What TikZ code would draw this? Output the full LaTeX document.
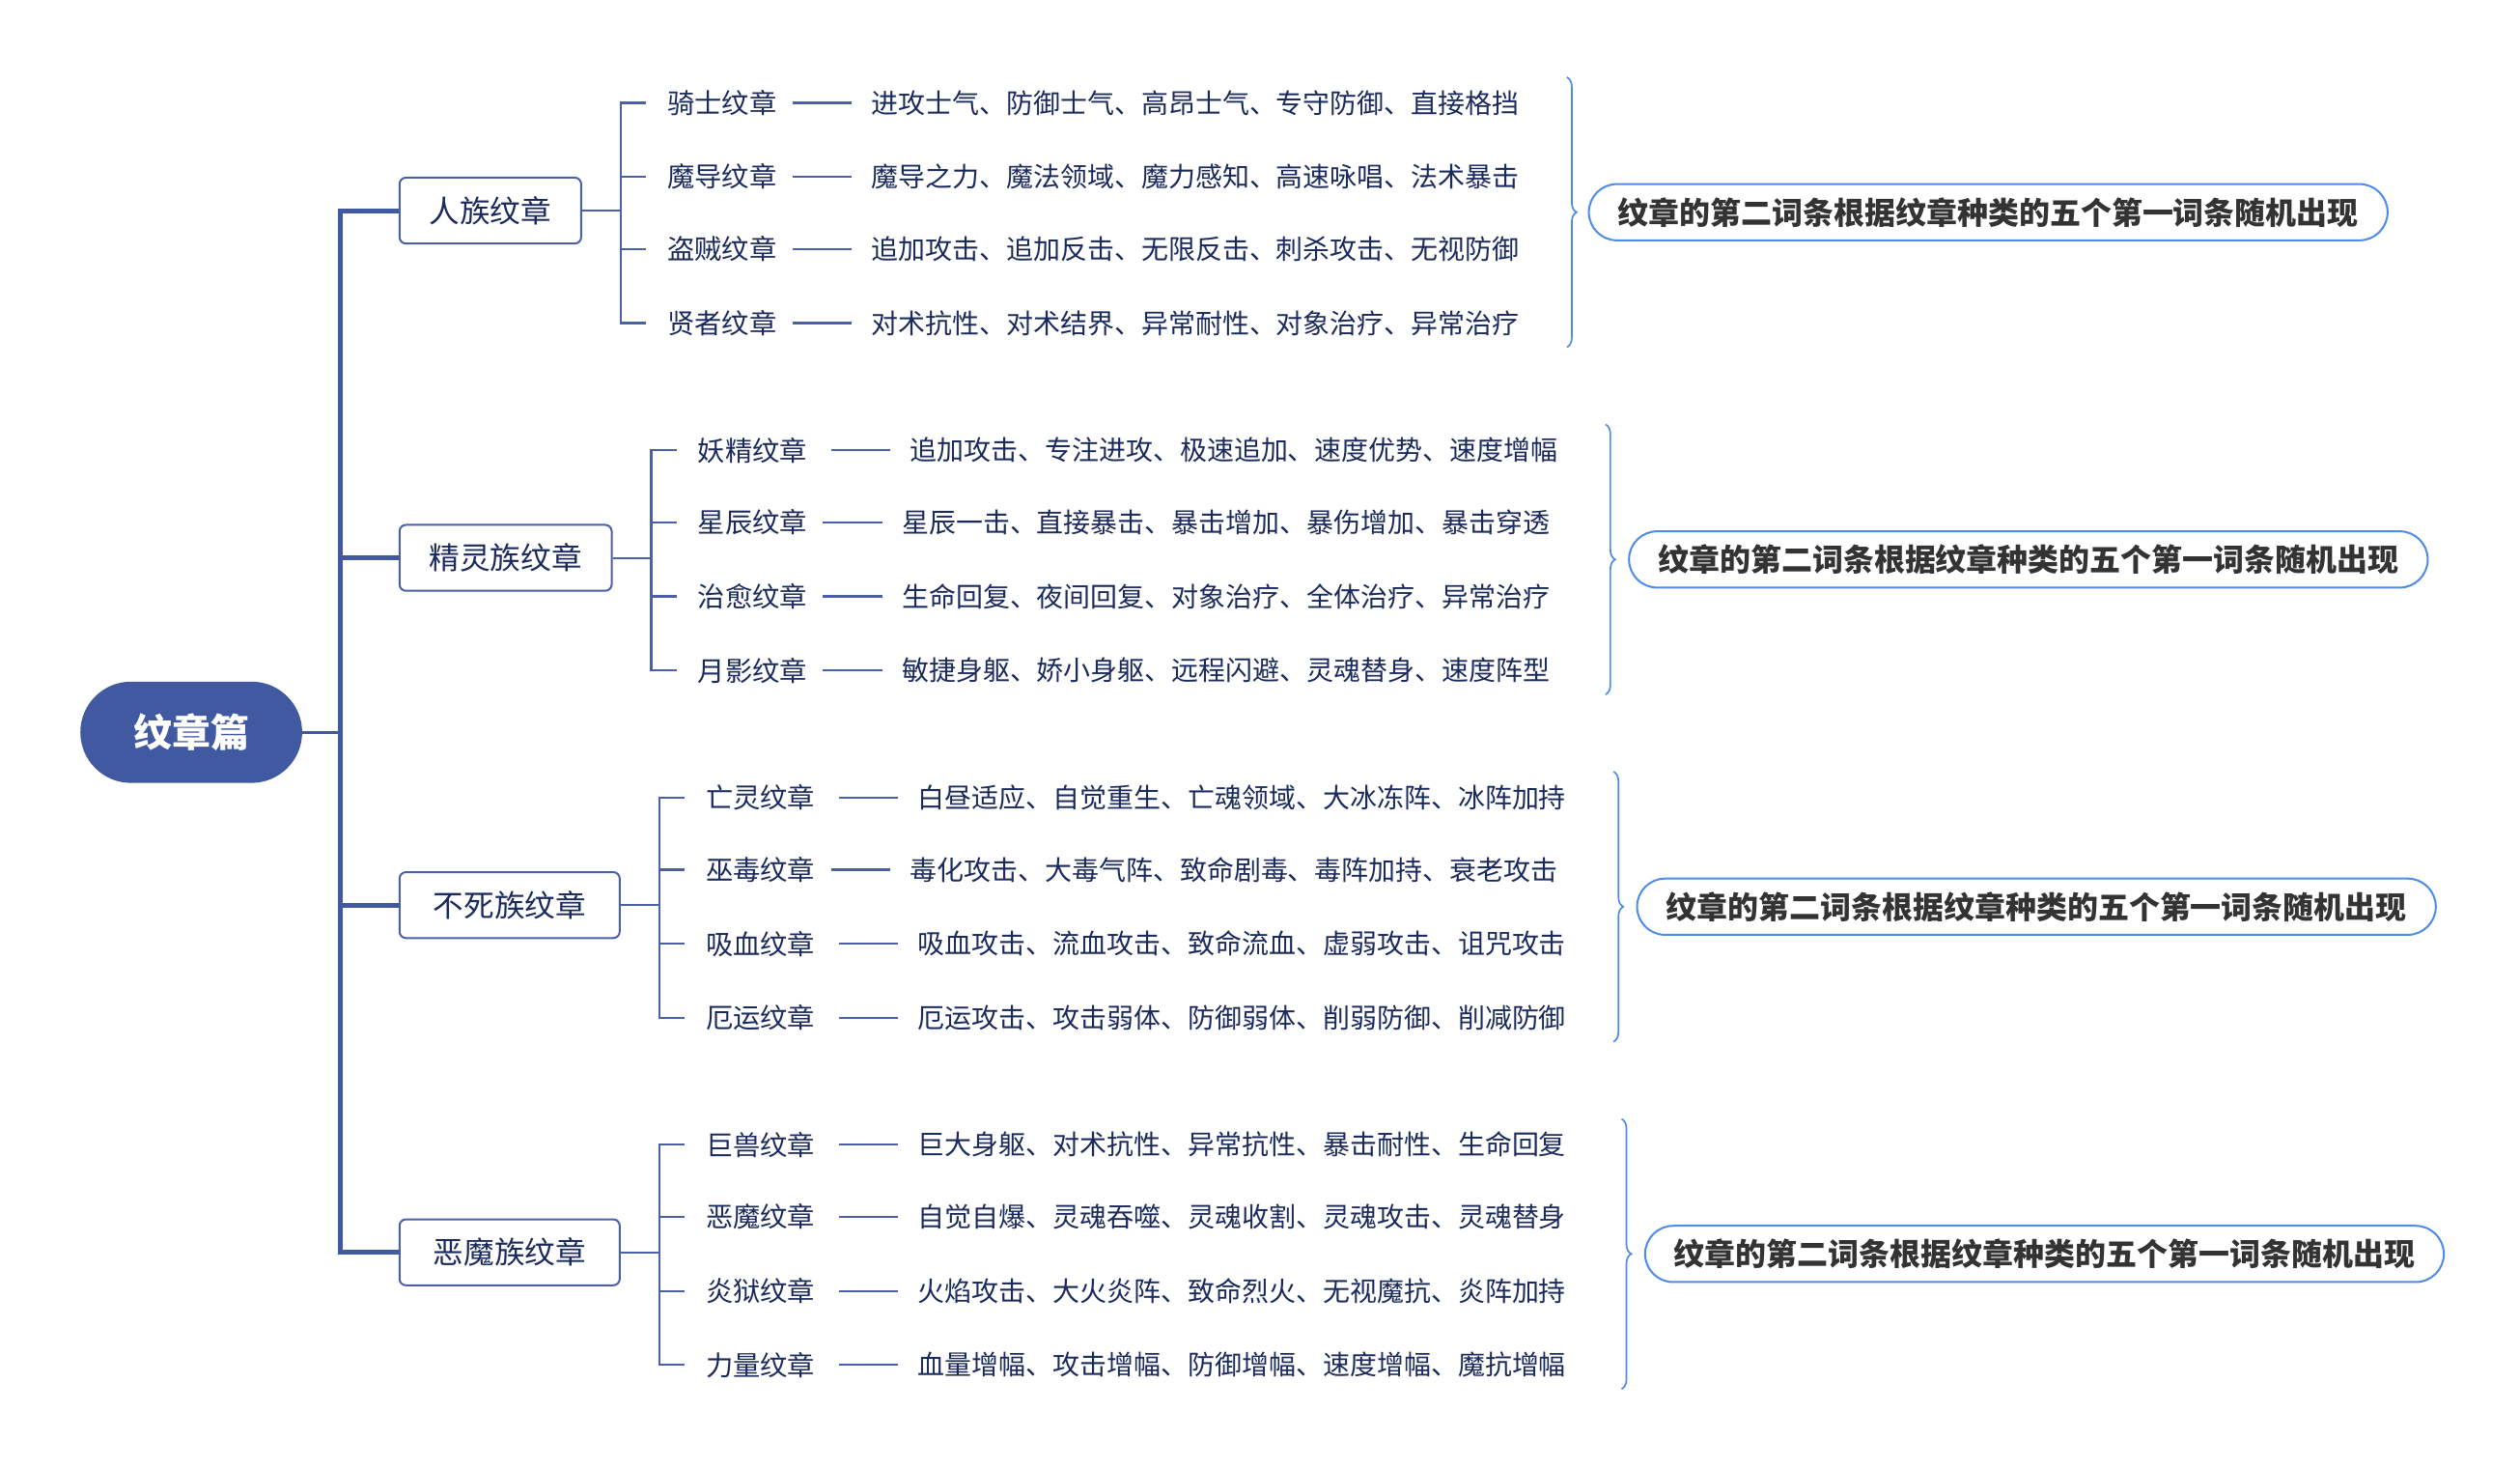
\documentclass[tikz,border=0pt]{standalone}
\usepackage{fontspec}
\setmainfont{Noto Sans CJK SC}
\usetikzlibrary{decorations.pathreplacing}
\definecolor{trunkblue}{HTML}{4159A0}
\definecolor{linkblue}{HTML}{4A60A8}
\definecolor{navytext}{HTML}{1B2A5C}
\definecolor{noteblue}{HTML}{4C8BEA}
\definecolor{notetext}{HTML}{333333}

\begin{document}
\begin{tikzpicture}[x=1pt,y=-1pt,
    rootpill/.style={fill=trunkblue, rounded corners=31.5pt, minimum width=138pt, minimum height=63pt,
        text=white, font=\bfseries\fontsize{24}{26}\selectfont},
    racebox/.style={draw=linkblue, line width=1.2pt, rounded corners=4pt, fill=white, anchor=west,
        minimum height=41pt, text=navytext, font=\fontsize{19}{21}\selectfont},
    itemname/.style={anchor=west, inner sep=0pt, text=navytext, font=\fontsize{17}{19}\selectfont},
    itemtext/.style={anchor=west, inner sep=0pt, text=navytext, font=\fontsize{16.8}{19}\selectfont},
    notebox/.style={draw=noteblue, line width=1.2pt, rounded corners=17.5pt, anchor=west,
        minimum width=497pt, minimum height=35pt, text=notetext, font=\bfseries\fontsize{19.2}{21}\selectfont},
    notebrace/.style={draw=noteblue, line width=1pt, decorate, decoration={brace, amplitude=6pt}},
    branch/.style={draw=trunkblue, line width=3pt},
    twig/.style={draw=linkblue, line width=1.3pt}]
    \useasboundingbox (0,0) rectangle (1568,913);

    % root and trunk
    \node[rootpill] (root) at (119,455.5) {纹章篇};
    \coordinate (hub) at (212,455.5);

    % 人族
    \node[racebox, minimum width=113pt] (hum) at (248,131) {人族纹章};
    \coordinate (humbar) at ([xshift=24pt]hum.east);
    \node[itemname] (hum1) at (415,64) {骑士纹章};
    \node[itemtext] (hum1t) at (542,64) {进攻士气、防御士气、高昂士气、专守防御、直接格挡};
    \node[itemname] (hum2) at (415,110) {魔导纹章};
    \node[itemtext] (hum2t) at (542,110) {魔导之力、魔法领域、魔力感知、高速咏唱、法术暴击};
    \node[itemname] (hum3) at (415,155) {盗贼纹章};
    \node[itemtext] (hum3t) at (542,155) {追加攻击、追加反击、无限反击、刺杀攻击、无视防御};
    \node[itemname] (hum4) at (415,201) {贤者纹章};
    \node[itemtext] (hum4t) at (542,201) {对术抗性、对术结界、异常耐性、对象治疗、异常治疗};
    \draw[notebrace] (975,48) -- (975,216);
    \node[notebox] (humnote) at (988,132) {纹章的第二词条根据纹章种类的五个第一词条随机出现};

    % 精灵族
    \node[racebox, minimum width=132pt] (elf) at (248,347) {精灵族纹章};
    \coordinate (elfbar) at ([xshift=24pt]elf.east);
    \node[itemname] (elf1) at (434,280) {妖精纹章};
    \node[itemtext] (elf1t) at (566,280) {追加攻击、专注进攻、极速追加、速度优势、速度增幅};
    \node[itemname] (elf2) at (434,325) {星辰纹章};
    \node[itemtext] (elf2t) at (561,325) {星辰一击、直接暴击、暴击增加、暴伤增加、暴击穿透};
    \node[itemname] (elf3) at (434,371) {治愈纹章};
    \node[itemtext] (elf3t) at (561,371) {生命回复、夜间回复、对象治疗、全体治疗、异常治疗};
    \node[itemname] (elf4) at (434,417) {月影纹章};
    \node[itemtext] (elf4t) at (561,417) {敏捷身躯、娇小身躯、远程闪避、灵魂替身、速度阵型};
    \draw[notebrace] (999,264) -- (999,432);
    \node[notebox] (elfnote) at (1013,348) {纹章的第二词条根据纹章种类的五个第一词条随机出现};

    % 不死族
    \node[racebox, minimum width=137pt] (und) at (248,563) {不死族纹章};
    \coordinate (undbar) at ([xshift=24pt]und.east);
    \node[itemname] (und1) at (439,496) {亡灵纹章};
    \node[itemtext] (und1t) at (571,496) {白昼适应、自觉重生、亡魂领域、大冰冻阵、冰阵加持};
    \node[itemname] (und2) at (439,541) {巫毒纹章};
    \node[itemtext] (und2t) at (566,541) {毒化攻击、大毒气阵、致命剧毒、毒阵加持、衰老攻击};
    \node[itemname] (und3) at (439,587) {吸血纹章};
    \node[itemtext] (und3t) at (571,587) {吸血攻击、流血攻击、致命流血、虚弱攻击、诅咒攻击};
    \node[itemname] (und4) at (439,633) {厄运纹章};
    \node[itemtext] (und4t) at (571,633) {厄运攻击、攻击弱体、防御弱体、削弱防御、削减防御};
    \draw[notebrace] (1004,480) -- (1004,648);
    \node[notebox] (undnote) at (1018,564) {纹章的第二词条根据纹章种类的五个第一词条随机出现};

    % 恶魔族
    \node[racebox, minimum width=137pt] (dem) at (248,779) {恶魔族纹章};
    \coordinate (dembar) at ([xshift=24pt]dem.east);
    \node[itemname] (dem1) at (439,712) {巨兽纹章};
    \node[itemtext] (dem1t) at (571,712) {巨大身躯、对术抗性、异常抗性、暴击耐性、生命回复};
    \node[itemname] (dem2) at (439,757) {恶魔纹章};
    \node[itemtext] (dem2t) at (571,757) {自觉自爆、灵魂吞噬、灵魂收割、灵魂攻击、灵魂替身};
    \node[itemname] (dem3) at (439,803) {炎狱纹章};
    \node[itemtext] (dem3t) at (571,803) {火焰攻击、大火炎阵、致命烈火、无视魔抗、炎阵加持};
    \node[itemname] (dem4) at (439,849) {力量纹章};
    \node[itemtext] (dem4t) at (571,849) {血量增幅、攻击增幅、防御增幅、速度增幅、魔抗增幅};
    \draw[notebrace] (1009,696) -- (1009,864);
    \node[notebox] (demnote) at (1023,780) {纹章的第二词条根据纹章种类的五个第一词条随机出现};

    % connectors
    \draw[branch, line width=1.6pt] (root.east) -- (hub);
    \draw[branch] (hum.west) -| (hub) (elf.west) -| (hub) (und.west) -| (hub) (dem.west) -| (hub);
    \draw[twig] (hum.east) -- (humbar)
        (humbar) |- ([xshift=-13pt]hum1.west) (humbar) |- ([xshift=-13pt]hum2.west)
        (humbar) |- ([xshift=-13pt]hum3.west) (humbar) |- ([xshift=-13pt]hum4.west);
    \draw[twig] (elf.east) -- (elfbar)
        (elfbar) |- ([xshift=-13pt]elf1.west) (elfbar) |- ([xshift=-13pt]elf2.west)
        (elfbar) |- ([xshift=-13pt]elf3.west) (elfbar) |- ([xshift=-13pt]elf4.west);
    \draw[twig] (und.east) -- (undbar)
        (undbar) |- ([xshift=-13pt]und1.west) (undbar) |- ([xshift=-13pt]und2.west)
        (undbar) |- ([xshift=-13pt]und3.west) (undbar) |- ([xshift=-13pt]und4.west);
    \draw[twig] (dem.east) -- (dembar)
        (dembar) |- ([xshift=-13pt]dem1.west) (dembar) |- ([xshift=-13pt]dem2.west)
        (dembar) |- ([xshift=-13pt]dem3.west) (dembar) |- ([xshift=-13pt]dem4.west);

    % dashes between name and words
    \draw[twig] ([xshift=-49pt]hum1t.west) -- ([xshift=-12pt]hum1t.west);
    \draw[twig] ([xshift=-49pt]hum2t.west) -- ([xshift=-12pt]hum2t.west);
    \draw[twig] ([xshift=-49pt]hum3t.west) -- ([xshift=-12pt]hum3t.west);
    \draw[twig] ([xshift=-49pt]hum4t.west) -- ([xshift=-12pt]hum4t.west);
    \draw[twig] ([xshift=-49pt]elf1t.west) -- ([xshift=-12pt]elf1t.west);
    \draw[twig] ([xshift=-49pt]elf2t.west) -- ([xshift=-12pt]elf2t.west);
    \draw[twig] ([xshift=-49pt]elf3t.west) -- ([xshift=-12pt]elf3t.west);
    \draw[twig] ([xshift=-49pt]elf4t.west) -- ([xshift=-12pt]elf4t.west);
    \draw[twig] ([xshift=-49pt]und1t.west) -- ([xshift=-12pt]und1t.west);
    \draw[twig] ([xshift=-49pt]und2t.west) -- ([xshift=-12pt]und2t.west);
    \draw[twig] ([xshift=-49pt]und3t.west) -- ([xshift=-12pt]und3t.west);
    \draw[twig] ([xshift=-49pt]und4t.west) -- ([xshift=-12pt]und4t.west);
    \draw[twig] ([xshift=-49pt]dem1t.west) -- ([xshift=-12pt]dem1t.west);
    \draw[twig] ([xshift=-49pt]dem2t.west) -- ([xshift=-12pt]dem2t.west);
    \draw[twig] ([xshift=-49pt]dem3t.west) -- ([xshift=-12pt]dem3t.west);
    \draw[twig] ([xshift=-49pt]dem4t.west) -- ([xshift=-12pt]dem4t.west);
\end{tikzpicture}
\end{document}
